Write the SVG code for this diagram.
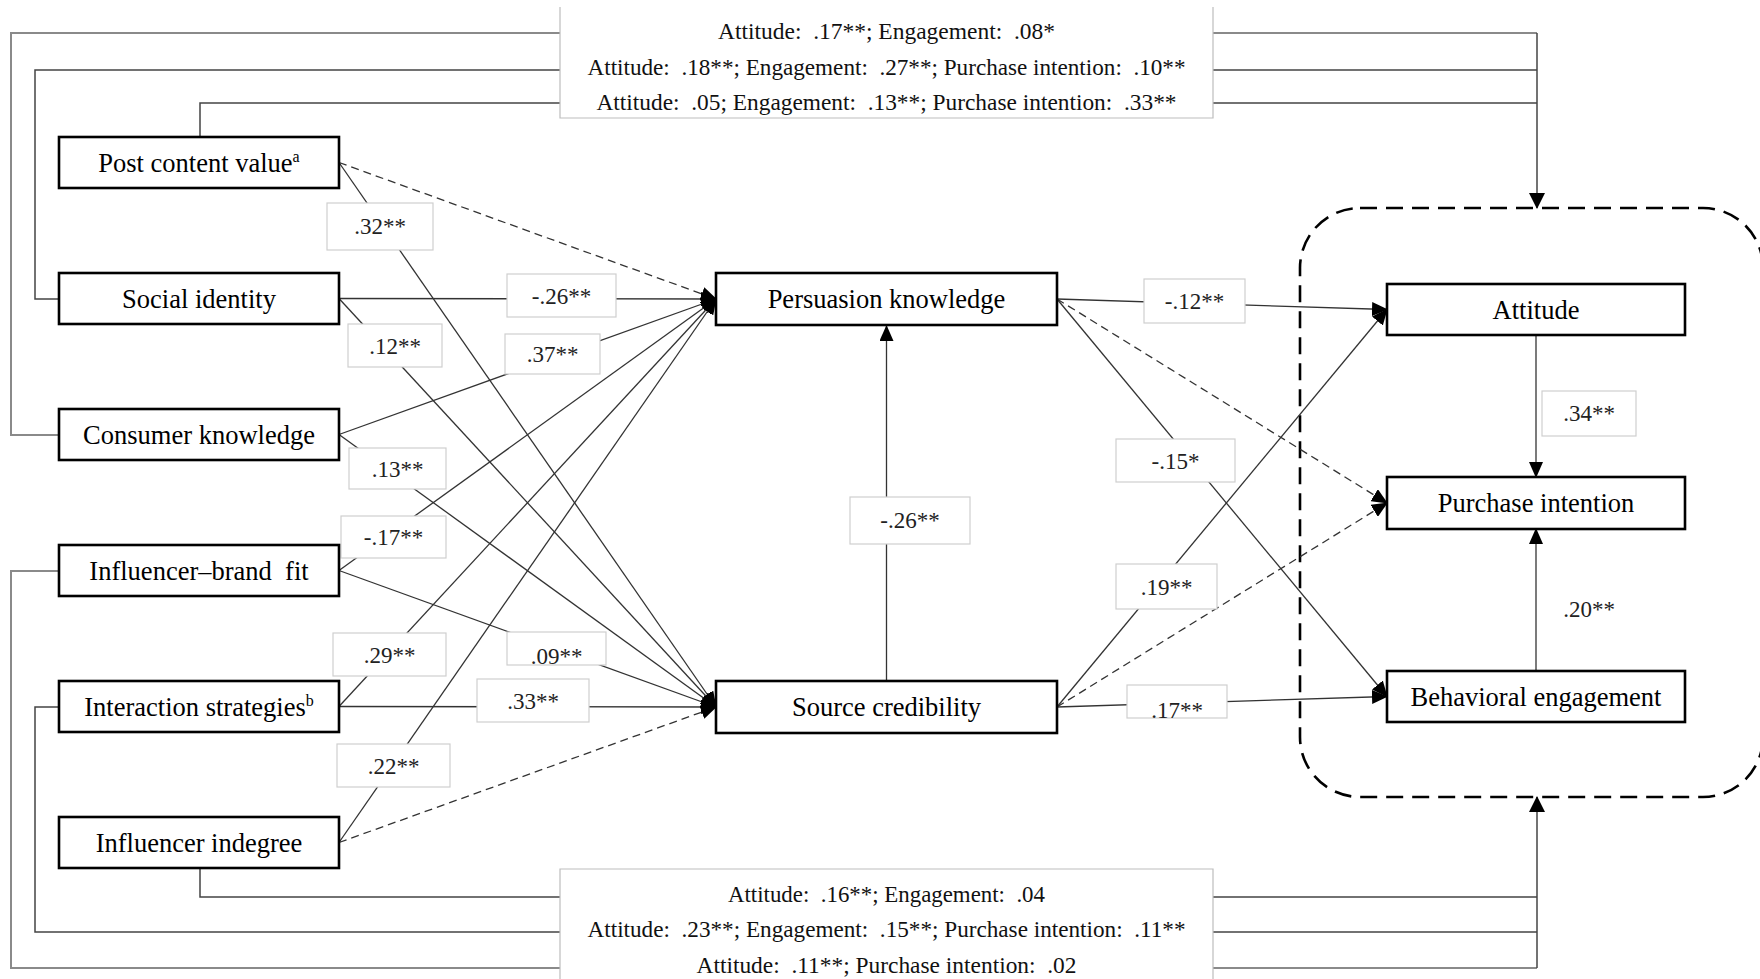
<svg xmlns="http://www.w3.org/2000/svg" width="1760" height="979" viewBox="0 0 1760 979">
<defs>
<style>
.node rect{fill:#fff;stroke:#000;stroke-width:2.6}
.node text{font-family:"Liberation Serif","Times New Roman",serif;font-size:26.5px;text-anchor:middle;fill:#000}
.lbl rect{fill:#fff;stroke:#cfcfcf;stroke-width:1.2}
.lbl text{font-family:"Liberation Serif","Times New Roman",serif;font-size:23px;text-anchor:middle;fill:#222}
.e{stroke:#333;stroke-width:1.3;fill:none}
.d{stroke-dasharray:8 5}
.fb{stroke:#444;stroke-width:1.5;fill:none}
.fo{stroke:#8a8a8a;stroke-width:2;fill:none}
.cap text{font-family:"Liberation Serif","Times New Roman",serif;font-size:23px;text-anchor:middle;fill:#111}
</style>
<marker id="ah" markerUnits="userSpaceOnUse" viewBox="0 0 16 14" markerWidth="16" markerHeight="14" refX="15" refY="7" orient="auto">
<path d="M0,0 L16,7 L0,14 z" fill="#000"/>
</marker>
<marker id="ahb" markerUnits="userSpaceOnUse" viewBox="0 0 16 16" markerWidth="16" markerHeight="16" refX="15" refY="8" orient="auto">
<path d="M0,0 L16,8 L0,16 z" fill="#000"/>
</marker>
</defs>
<rect width="1760" height="979" fill="#fff"/>

<!-- dashed outcome group -->
<rect id="outcome-group" x="1300" y="208" width="463" height="589" rx="60" ry="60" fill="none" stroke="#000" stroke-width="2.6" stroke-dasharray="17 9"/>

<g id="connectors">
<path class="fo" d="M59,435 H11 V33 H1537"/>
<path class="fb" d="M59,299 H35 V70 H1537"/>
<path class="fb" d="M200,137 V103 H1537"/>
<path class="fb" d="M1537,33 V208" marker-end="url(#ahb)"/>
<path class="fb" d="M200,869 V897 H1537"/>
<path class="fb" d="M59,707 H35 V932 H1537"/>
<path class="fo" d="M59,571 H11 V968 H1537"/>
<path class="fb" d="M1537,968 V797" marker-end="url(#ahb)"/>

<line class="e d" x1="339" y1="162.5" x2="716" y2="299" marker-end="url(#ah)"/>
<line class="e" x1="339" y1="298.5" x2="716" y2="299" marker-end="url(#ah)"/>
<line class="e" x1="339" y1="434.5" x2="716" y2="299" marker-end="url(#ah)"/>
<line class="e" x1="339" y1="570.5" x2="716" y2="299" marker-end="url(#ah)"/>
<line class="e" x1="339" y1="706.5" x2="716" y2="299" marker-end="url(#ah)"/>
<line class="e" x1="339" y1="842.5" x2="716" y2="299" marker-end="url(#ah)"/>
<line class="e" x1="339" y1="162.5" x2="716" y2="707" marker-end="url(#ah)"/>
<line class="e" x1="339" y1="298.5" x2="716" y2="707" marker-end="url(#ah)"/>
<line class="e" x1="339" y1="434.5" x2="716" y2="707" marker-end="url(#ah)"/>
<line class="e" x1="339" y1="570.5" x2="716" y2="707" marker-end="url(#ah)"/>
<line class="e" x1="339" y1="706.5" x2="716" y2="707" marker-end="url(#ah)"/>
<line class="e d" x1="339" y1="842.5" x2="716" y2="707" marker-end="url(#ah)"/>
<line class="e" x1="886.5" y1="681" x2="886.5" y2="326" marker-end="url(#ah)"/>
<line class="e" x1="1057" y1="299" x2="1387" y2="309.5" marker-end="url(#ah)"/>
<line class="e d" x1="1057" y1="299" x2="1387" y2="503" marker-end="url(#ah)"/>
<line class="e" x1="1057" y1="299" x2="1387" y2="696.5" marker-end="url(#ah)"/>
<line class="e" x1="1057" y1="707" x2="1387" y2="309.5" marker-end="url(#ah)"/>
<line class="e d" x1="1057" y1="707" x2="1387" y2="503" marker-end="url(#ah)"/>
<line class="e" x1="1057" y1="707" x2="1387" y2="696.5" marker-end="url(#ah)"/>
<line class="e" x1="1536" y1="335" x2="1536" y2="477" marker-end="url(#ah)"/>
<line class="e" x1="1536" y1="671" x2="1536" y2="529" marker-end="url(#ah)"/>
</g>

<g id="edge-labels" class="lbl">
<rect x="327" y="203" width="106" height="47"/><text x="380" y="234">.32**</text>
<rect x="507" y="274" width="109" height="43"/><text x="561.5" y="304">-.26**</text>
<rect x="348" y="324" width="94" height="43"/><text x="395" y="354">.12**</text>
<rect x="505" y="334" width="95" height="40"/><text x="552.5" y="362">.37**</text>
<rect x="349" y="448" width="97" height="41"/><text x="397.5" y="477">.13**</text>
<rect x="341" y="516" width="105" height="42"/><text x="393.5" y="545">-.17**</text>
<rect x="333" y="633" width="113" height="43"/><text x="389.5" y="663">.29**</text>
<rect x="507" y="632" width="99" height="33"/><text x="556.5" y="664">.09**</text>
<rect x="477" y="679" width="112" height="43"/><text x="533" y="709">.33**</text>
<rect x="337" y="744" width="113" height="43"/><text x="393.5" y="774">.22**</text>
<rect x="850" y="497" width="120" height="47"/><text x="910" y="528">-.26**</text>
<rect x="1144" y="279" width="101" height="44"/><text x="1194.5" y="309">-.12**</text>
<rect x="1116" y="439" width="119" height="43"/><text x="1175.5" y="469">-.15*</text>
<rect x="1116" y="564" width="101" height="45"/><text x="1166.5" y="595">.19**</text>
<rect x="1127" y="685" width="100" height="33"/><text x="1177" y="718">.17**</text>
<rect x="1542" y="391" width="94" height="45"/><text x="1589" y="421">.34**</text>
<text x="1589" y="617">.20**</text>
</g>

<g id="covariates-top" class="cap">
<rect x="560" y="7" width="653" height="111" fill="#fff"/>
<path d="M560,7 V118 H1213 V7" fill="none" stroke="#bdbdbd" stroke-width="1.2"/>
<text x="886.5" y="39" textLength="337" lengthAdjust="spacingAndGlyphs">Attitude:&#160; .17**; Engagement:&#160; .08*</text>
<text x="886.5" y="75" textLength="598" lengthAdjust="spacingAndGlyphs">Attitude:&#160; .18**; Engagement:&#160; .27**; Purchase intention:&#160; .10**</text>
<text x="886.5" y="110" textLength="580" lengthAdjust="spacingAndGlyphs">Attitude:&#160; .05; Engagement:&#160; .13**; Purchase intention:&#160; .33**</text>
</g>
<g id="covariates-bottom" class="cap">
<rect x="560" y="869" width="653" height="115" fill="#fff"/>
<path d="M560,979 V869 H1213 V979" fill="none" stroke="#bdbdbd" stroke-width="1.2"/>
<text x="886.5" y="902" textLength="317" lengthAdjust="spacingAndGlyphs">Attitude:&#160; .16**; Engagement:&#160; .04</text>
<text x="886.5" y="937" textLength="598" lengthAdjust="spacingAndGlyphs">Attitude:&#160; .23**; Engagement:&#160; .15**; Purchase intention:&#160; .11**</text>
<text x="886.5" y="973" textLength="380" lengthAdjust="spacingAndGlyphs">Attitude:&#160; .11**; Purchase intention:&#160; .02</text>
</g>

<g id="post-content-value" class="node"><rect x="59" y="137" width="280" height="51"/><text x="199" y="172">Post content value<tspan font-size="16" dy="-10">a</tspan></text></g>
<g id="social-identity" class="node"><rect x="59" y="273" width="280" height="51"/><text x="199" y="308">Social identity</text></g>
<g id="consumer-knowledge" class="node"><rect x="59" y="409" width="280" height="51"/><text x="199" y="444">Consumer knowledge</text></g>
<g id="influencer-brand-fit" class="node"><rect x="59" y="545" width="280" height="51"/><text x="199" y="580">Influencer–brand&#160; fit</text></g>
<g id="interaction-strategies" class="node"><rect x="59" y="681" width="280" height="51"/><text x="199" y="716">Interaction strategies<tspan font-size="16" dy="-10">b</tspan></text></g>
<g id="influencer-indegree" class="node"><rect x="59" y="817" width="280" height="51"/><text x="199" y="852">Influencer indegree</text></g>

<g id="persuasion-knowledge" class="node"><rect x="716" y="273" width="341" height="52"/><text x="886.5" y="308">Persuasion knowledge</text></g>
<g id="source-credibility" class="node"><rect x="716" y="681" width="341" height="52"/><text x="886.5" y="716">Source credibility</text></g>

<g id="attitude" class="node"><rect x="1387" y="284" width="298" height="51"/><text x="1536" y="319">Attitude</text></g>
<g id="purchase-intention" class="node"><rect x="1387" y="477" width="298" height="52"/><text x="1536" y="512">Purchase intention</text></g>
<g id="behavioral-engagement" class="node"><rect x="1387" y="671" width="298" height="51"/><text x="1536" y="706">Behavioral engagement</text></g>
</svg>
